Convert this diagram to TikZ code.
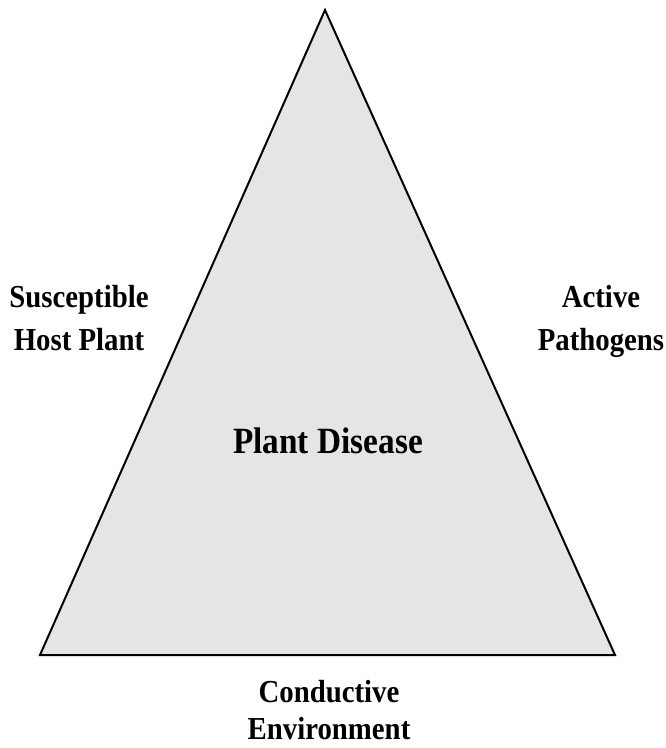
\documentclass[tikz,border=0pt]{standalone}
\usepackage{fontspec}
\setmainfont[FakeStretch=0.9]{Liberation Serif}
\usetikzlibrary{positioning}
\definecolor{shade}{HTML}{E5E5E5}
\tikzset{lbl/.style={font=\fontsize{32}{42.5}\selectfont\bfseries,align=center,inner sep=0pt,anchor=base},
 tri/.style={draw=black,fill=shade,line width=2pt,line join=miter}}
\begin{document}
\begin{tikzpicture}[x=1pt,y=-1pt]
\useasboundingbox (0,0) rectangle (666,748);
\coordinate (top) at (325,10);
\coordinate (bl) at (40,655);
\coordinate (br) at (615,655);
\filldraw[tri] (top)--(bl)--(br)--cycle;
\node[lbl,font=\fontsize{37}{42}\selectfont\bfseries] (disease) at (328,453) {Plant Disease};
% base anchor sits on the last line
\node[lbl] (host) at (79,350) {Susceptible\\Host Plant};
\node[lbl] (pathogen) at (601,350) {Active\\Pathogens};
\node[lbl,font=\fontsize{32}{37}\selectfont\bfseries] (environ) at (329,739) {Conductive\\Environment};
\end{tikzpicture}
\end{document}
